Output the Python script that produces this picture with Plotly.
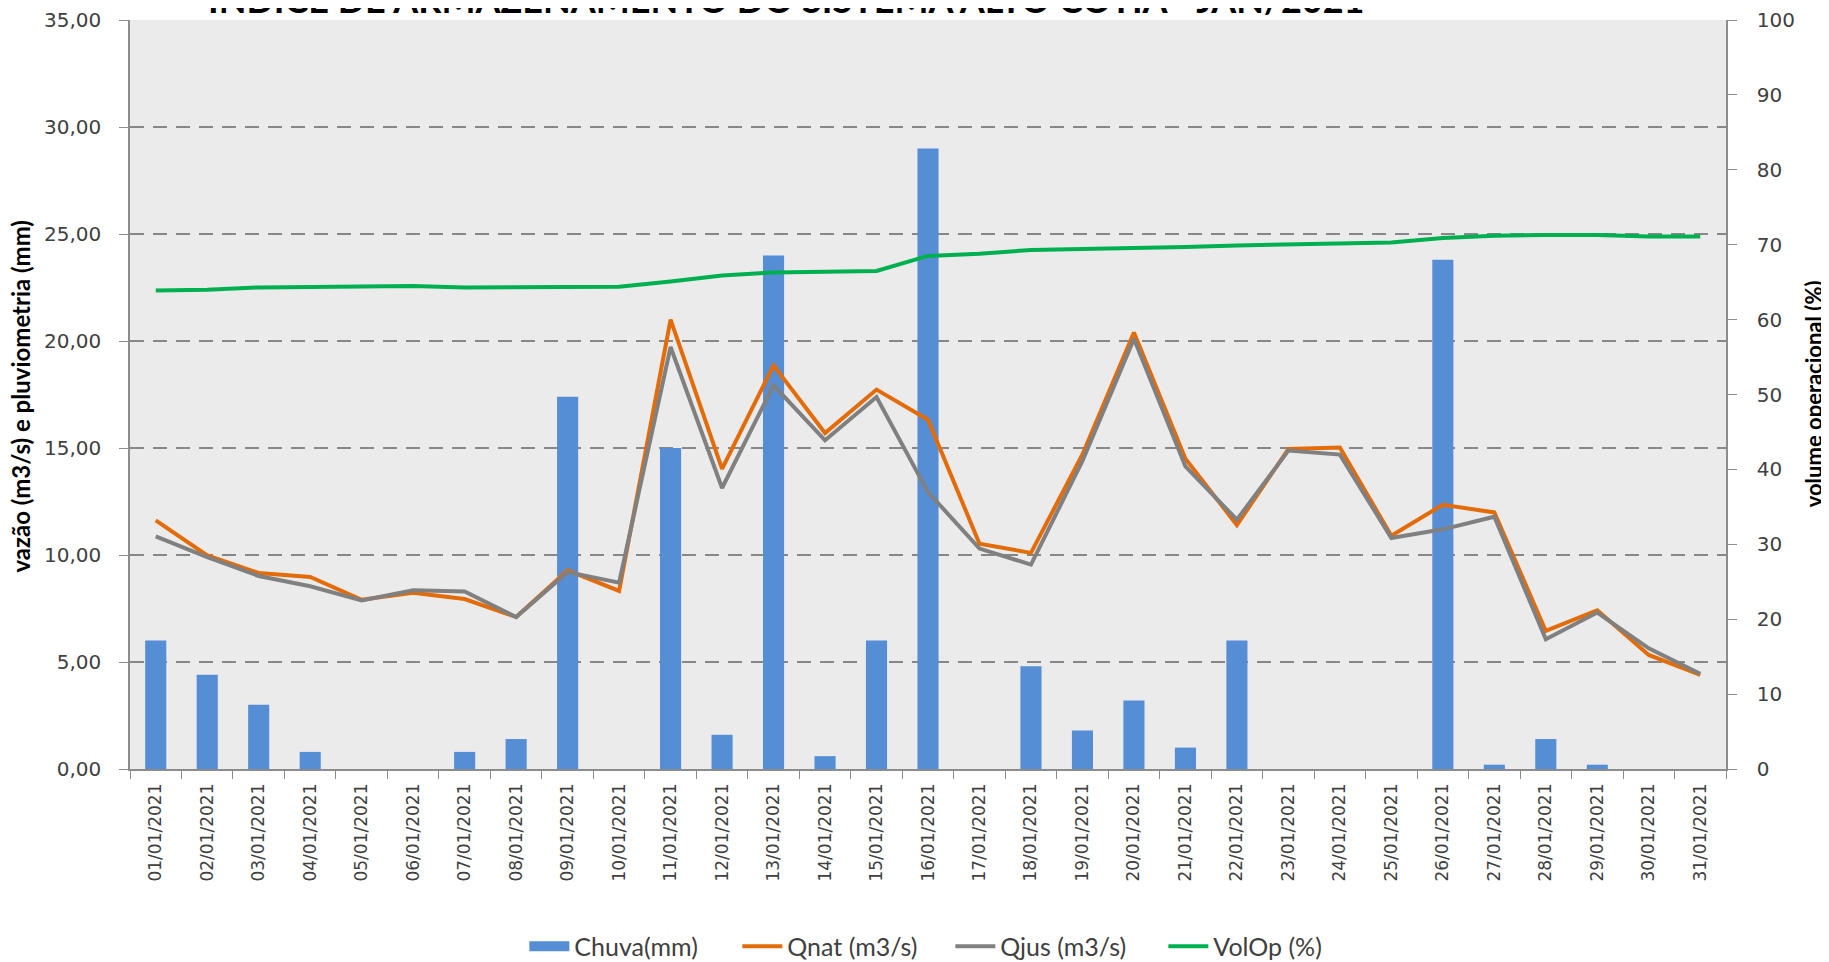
import plotly.graph_objects as go

dias = [f"{d:02d}/01/2021" for d in range(1, 32)]

chuva = [6.0, 4.4, 3.0, 0.8, 0.0, 0.0, 0.8, 1.4, 17.4, 0.0,
         15.0, 1.6, 24.0, 0.6, 6.0, 29.0, 0.0, 4.8, 1.8, 3.2,
         1.0, 6.0, 0.0, 0.0, 0.0, 23.8, 0.2, 1.4, 0.2, 0.0, 0.0]

qnat = [11.62, 9.98, 9.16, 8.97, 7.91, 8.24, 7.94, 7.10, 9.28, 8.32,
        21.00, 14.02, 18.86, 15.70, 17.73, 16.32, 10.53, 10.10, 14.70, 20.40,
        14.50, 11.40, 14.95, 15.02, 10.90, 12.35, 11.99, 6.45, 7.42, 5.33, 4.40]

qjus = [10.87, 9.90, 9.02, 8.54, 7.88, 8.35, 8.30, 7.10, 9.20, 8.71,
        19.72, 13.13, 17.93, 15.36, 17.38, 12.94, 10.30, 9.55, 14.40, 20.10,
        14.14, 11.65, 14.88, 14.69, 10.79, 11.20, 11.79, 6.06, 7.31, 5.64, 4.45]

volop = [63.9, 64.0, 64.3, 64.4, 64.5, 64.5, 64.3, 64.3, 64.3, 64.4,
         65.1, 65.9, 66.3, 66.4, 66.5, 68.5, 68.8, 69.3, 69.4, 69.6,
         69.7, 69.9, 70.0, 70.2, 70.3, 70.9, 71.2, 71.3, 71.3, 71.1, 71.1]

titulo = "INDICE DE ARMAZENAMENTO DO SISTEMA ALTO COTIA - JAN/2021"
y_titulo = "vazão (m3/s) e pluviometria (mm)"
y2_titulo = "volume operacional (%)"

NARROW = "Lato, Roboto, sans-serif"
TICKF = dict(family="DejaVu Sans, Verdana, sans-serif", size=20, color="#404040")
AXC = "#8C8C8C"
AZUL = "#558ED5"

fig = go.Figure()
fig.add_trace(go.Bar(x=dias, y=chuva, name="Chuva(mm)", marker=dict(color=AZUL, line=dict(width=0)),
                     width=0.41, showlegend=False))
# legend-only entry drawn as a wide rectangle like the original legend
fig.add_trace(go.Scatter(x=[dias[0]], y=[None], name="Chuva(mm)", mode="lines",
                         line=dict(color=AZUL, width=14), hoverinfo="skip"))
fig.add_trace(go.Scatter(x=dias, y=qnat, name="Qnat (m3/s)", mode="lines",
                         line=dict(color="#E36C09", width=4)))
fig.add_trace(go.Scatter(x=dias, y=qjus, name="Qjus (m3/s)", mode="lines",
                         line=dict(color="#808080", width=4)))
fig.add_trace(go.Scatter(x=dias, y=volop, name="VolOp (%)", mode="lines", yaxis="y2",
                         line=dict(color="#00B050", width=4)))

fig.update_layout(
    width=1829, height=962,
    margin=dict(l=122, r=111, t=12, b=201, autoexpand=False),
    paper_bgcolor="white", plot_bgcolor="#EBEBEB",
    separators=",.",
    showlegend=True,
    legend=dict(orientation="h", x=0.514, xanchor="center", y=-0.237, yanchor="middle",
                font=dict(family=NARROW, size=25, color="#404040"),
                itemwidth=40, entrywidth=158, tracegroupgap=0, traceorder="normal"),
    xaxis=dict(type="category", tickangle=-90, tickfont=dict(family="DejaVu Sans, Verdana, sans-serif", size=17, color="#404040"),
               showline=True, linecolor=AXC, linewidth=1.5, ticks="outside", tickson="boundaries",
               ticklen=8, tickcolor=AXC, showgrid=False, range=[-0.5, 30.5], ticklabelstandoff=6,
               automargin=False),
    yaxis=dict(range=[0, 35], dtick=5, tickformat=".2f", tickfont=TICKF,
               showline=True, linecolor=AXC, linewidth=1.5, ticks="outside", ticklen=9, tickcolor=AXC,
               showgrid=True, gridcolor="#878787", gridwidth=2, griddash="14px,9px",
               zeroline=False, ticklabelstandoff=14, automargin=False),
    yaxis2=dict(range=[0, 100], dtick=10, overlaying="y", side="right", tickfont=TICKF,
                showline=True, linecolor=AXC, linewidth=1.5, ticks="outside", ticklen=9, tickcolor=AXC,
                showgrid=False, zeroline=False, ticklabelstandoff=16, automargin=False),
    annotations=[
        dict(text=f"<b>{titulo}</b>", xref="paper", yref="paper", x=0.411, y=1.028,
             xanchor="center", yanchor="middle", showarrow=False,
             font=dict(family=NARROW, size=36, color="black")),
        dict(text=f"<b>{y_titulo}</b>", xref="paper", yref="paper", x=-0.0683, y=0.4985,
             xanchor="center", yanchor="middle", textangle=-90, showarrow=False,
             font=dict(family=NARROW, size=24, color="black")),
        dict(text=f"<b>{y2_titulo}</b>", xref="paper", yref="paper", x=1.0545, y=0.5016,
             xanchor="center", yanchor="middle", textangle=-90, showarrow=False,
             font=dict(family=NARROW, size=22, color="black")),
    ],
)

fig.write_html("out.html")
